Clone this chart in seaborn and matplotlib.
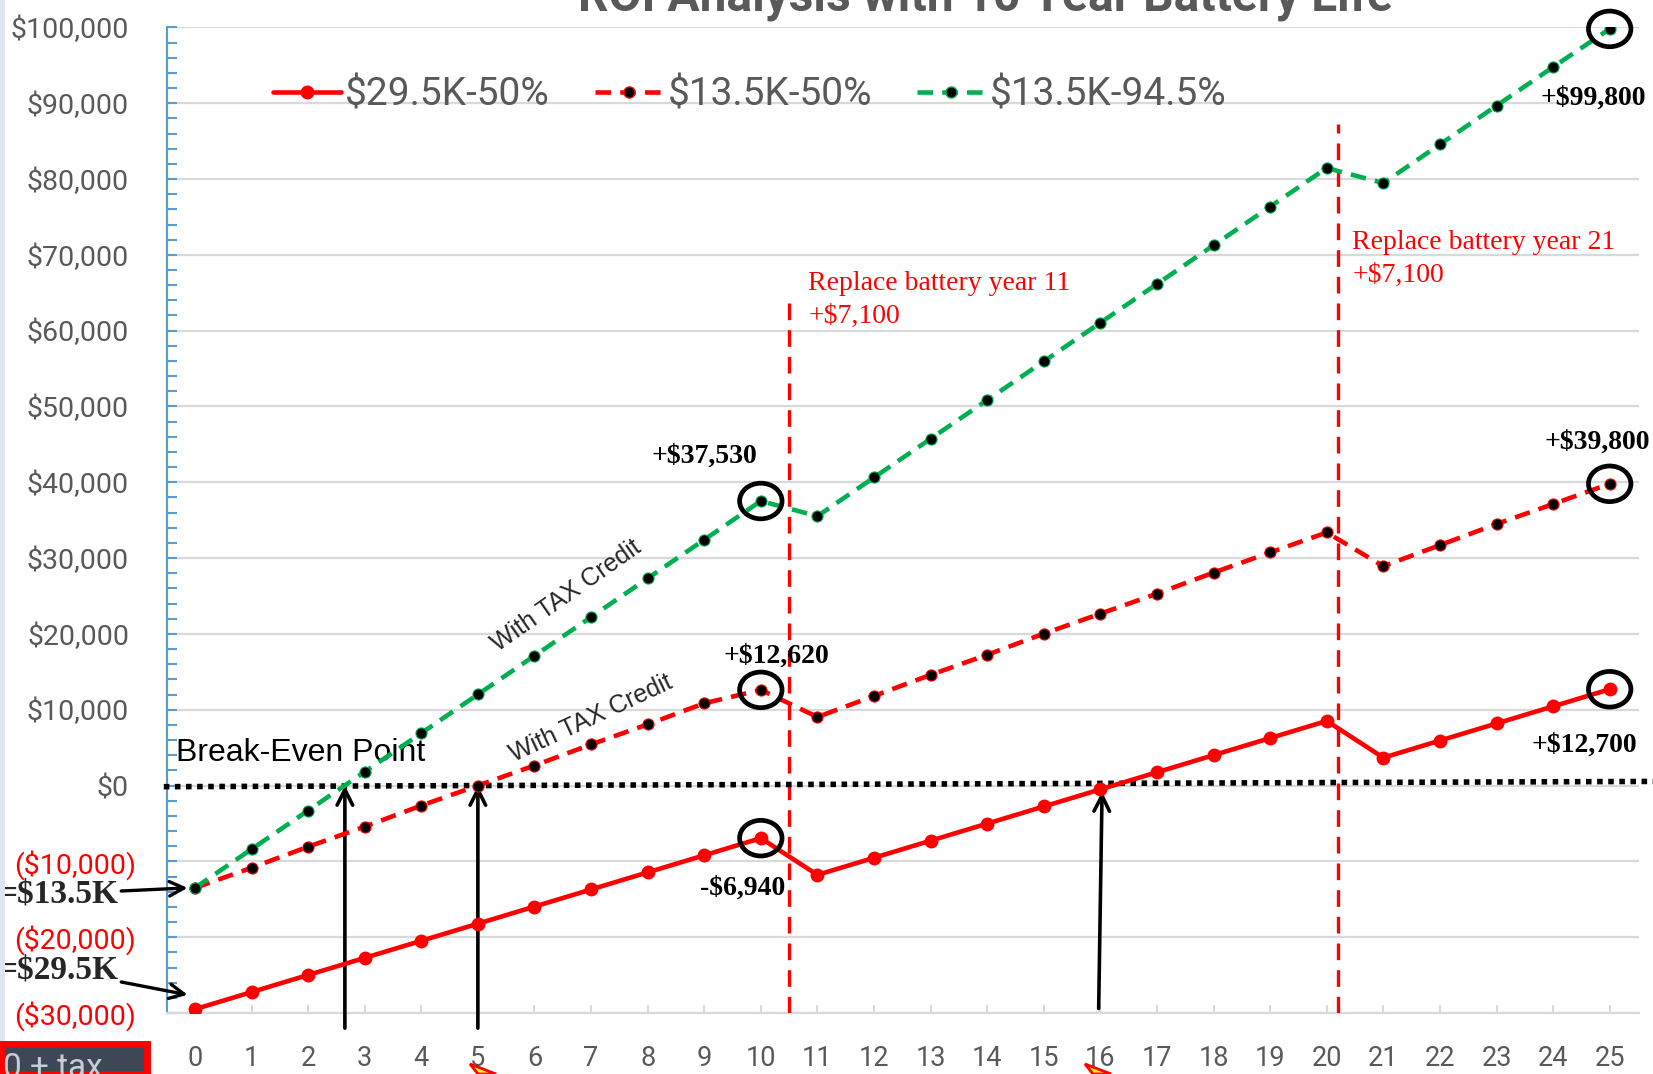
import matplotlib
matplotlib.use("Agg")
import matplotlib.pyplot as plt
import seaborn as sns
import pandas as pd
from matplotlib.patches import Ellipse, Rectangle, Polygon
from matplotlib.lines import Line2D
from matplotlib.ticker import FuncFormatter, MultipleLocator
from matplotlib.transforms import ScaledTranslation

# ---- data -------------------------------------------------------------
years = list(range(26))
roi_295k_50 = [-29500, -27244, -24988, -22732, -20476, -18220, -15964, -13708,
               -11452, -9196, -6940, -11784, -9528, -7272, -5016, -2760, -504,
               1752, 4008, 6264, 8520, 3676, 5932, 8188, 10444, 12700]
roi_135k_50 = [-13500, -10850, -8070, -5420, -2640, 0, 2640, 5420, 8070, 10850,
               12620, 9040, 11820, 14600, 17250, 20030, 22670, 25310, 28090,
               30740, 33380, 28930, 31710, 34490, 37130, 39800]
roi_135k_945 = [-13500, -8397, -3294, 1809, 6912, 12015, 17118, 22221, 27324,
                32427, 37530, 35533, 40636, 45739, 50842, 55945, 61048, 66151,
                71254, 76357, 81460, 79463, 84566, 89669, 94772, 99800]
series_names = ["$29.5K-50%", "$13.5K-50%", "$13.5K-94.5%"]
battery_years = [10.5, 20.2]
battery_cost = 7100
break_even_years = [2.65, 5.0, 16.0]
title_text = "ROI Analysis with 10 Year Battery Life"

df = pd.DataFrame({"year": years, "a": roi_295k_50, "b": roi_135k_50, "c": roi_135k_945})

# ---- figure -----------------------------------------------------------
sns.set_theme(style="white")
plt.rcParams["font.family"] = ["Roboto", "DejaVu Sans"]
GREY = "#595959"
RED = "#FF0000"
GREEN = "#00B050"

fig = plt.figure(figsize=(16.53, 10.74), dpi=100)
fig.patch.set_facecolor("white")
ax = fig.add_axes([0.1008, 0.0568, 0.8908, 0.9177])

dash = (0, (3.4, 2.0))
sns.lineplot(data=df, x="year", y="a", ax=ax, color=RED, lw=3.3, marker="o",
             markersize=10, markeredgewidth=0, markerfacecolor=RED, zorder=5)
sns.lineplot(data=df, x="year", y="b", ax=ax, color=RED, lw=3.3, linestyle=dash,
             marker="o", markersize=8, markerfacecolor="black",
             markeredgecolor=RED, markeredgewidth=0.8, zorder=5)
sns.lineplot(data=df, x="year", y="c", ax=ax, color=GREEN, lw=3.3, linestyle=dash,
             marker="o", markersize=8, markerfacecolor="black",
             markeredgecolor=GREEN, markeredgewidth=0.8, zorder=5)

# ---- axes styling -----------------------------------------------------
ax.set_xlim(-0.5, 25.52)
ax.set_ylim(-30000, 100000)
ax.set_xlabel("")
ax.set_ylabel("")
ax.set_xticks(years)
ax.yaxis.set_major_locator(MultipleLocator(10000))
ax.yaxis.set_minor_locator(MultipleLocator(2000))
ax.yaxis.set_major_formatter(FuncFormatter(
    lambda v, p: f"${v:,.0f}" if v >= 0 else f"(${-v:,.0f})"))
ax.grid(axis="y", color="#D9D9D9", lw=1.6, zorder=0)
ax.set_axisbelow(True)
for s in ["top", "right"]:
    ax.spines[s].set_visible(False)
ax.spines["left"].set_color("#5B9BD5")
ax.spines["left"].set_linewidth(1.5)
ax.spines["bottom"].set_color("#D9D9D9")
ax.spines["bottom"].set_linewidth(1.6)
ax.tick_params(axis="y", which="both", direction="in", color="#5B9BD5",
               width=1.5, length=7, left=True, labelsize=20.5, labelcolor=GREY, pad=22)
ax.tick_params(axis="x", direction="in", color="#D9D9D9", width=1.5, length=6,
               bottom=True, labelsize=19.5, labelcolor=GREY, pad=23)
fig.canvas.draw()
# positive amounts keep a trailing gap the width of ")" so digits line up
for lab in ax.get_yticklabels():
    if lab.get_text().startswith("("):
        lab.set_color(RED)
    else:
        lab.set_transform(lab.get_transform() + ScaledTranslation(-0.07, 0, fig.dpi_scale_trans))

# ---- legend -----------------------------------------------------------
handles = [
    Line2D([], [], color=RED, lw=3.3, marker="o", markersize=10, markeredgewidth=0),
    Line2D([], [], color=RED, lw=3.3, linestyle=dash, marker="o", markersize=8,
           markerfacecolor="black", markeredgecolor=RED),
    Line2D([], [], color=GREEN, lw=3.3, linestyle=dash, marker="o", markersize=8,
           markerfacecolor="black", markeredgecolor=GREEN),
]
leg = ax.legend(handles, series_names, loc="center left", bbox_to_anchor=(0.072, 0.931),
                ncol=3, frameon=False, fontsize=28, handlelength=1.75,
                handletextpad=0.12, columnspacing=1.15, borderaxespad=0,
                borderpad=0)
for t in leg.get_texts():
    t.set_color(GREY)

# ---- title (cropped at the top edge) ----------------------------------
fig.text(0.596, 1 - 11 / 1074, title_text, ha="center", va="baseline",
         fontsize=34.5, fontweight="bold", color=GREY)

# ---- break-even line --------------------------------------------------
ax.plot([-0.55, 25.9], [-150, 550], color="black", lw=4, linestyle=(0, (1, 1)),
        clip_on=False, zorder=4)
ax.text(-0.34, 4300, "Break-Even Point", fontsize=23, va="center", ha="left",
        family="Liberation Sans", color="black")

# ---- battery replacement markers --------------------------------------
for bx, top, label_x, label_y, yr in [
        (battery_years[0], 64000, 10.84, 67900, 11),
        (battery_years[1], 87300, 20.45, 73300, 21)]:
    ax.plot([bx, bx], [-30000, top], color=RED, lw=2.4, linestyle=(0, (5, 3)),
            zorder=3)
    ax.text(label_x, label_y, f"Replace battery year {yr}\n+${battery_cost:,}",
            color=RED, fontsize=20, family="Liberation Serif", va="top",
            ha="left", linespacing=1.45)

# ---- circled values ---------------------------------------------------
serif_b = dict(family="Liberation Serif", fontweight="bold", fontsize=20,
               color="black", ha="center", va="center")
circled = [
    (10, roi_135k_945[10], (-41, 32)),
    (10, roi_135k_50[10], (11, 24)),
    (10, roi_295k_50[10], (-13, -36)),
    (25, roi_135k_945[25], (-11.5, -50)),
    (25, roi_135k_50[25], (-9, 30)),
    (25, roi_295k_50[25], (-18, -40)),
]
for cx, cy, off in circled:
    ax.add_patch(Ellipse((cx, cy), 0.75, 4700, fill=False, edgecolor="black",
                         lw=3.4, zorder=6, clip_on=False))
    txt = f"+${cy:,}" if cy >= 0 else f"-${-cy:,}"
    ax.annotate(txt, (cx, cy), xytext=off, textcoords="offset points",
                annotation_clip=False, zorder=7, **serif_b)

# ---- "With TAX Credit" notes ------------------------------------------
ax.text(6.56, 25030, "With TAX Credit", rotation=35, fontsize=18,
        family="Liberation Sans", ha="center", va="center", rotation_mode="anchor")
ax.text(7.0, 8900, "With TAX Credit", rotation=25, fontsize=18,
        family="Liberation Sans", ha="center", va="center", rotation_mode="anchor")

# ---- break-even arrows ------------------------------------------------
arrow_kw = dict(arrowstyle="->", color="black", lw=2.6, mutation_scale=28,
                shrinkA=0, shrinkB=0)
ax.annotate("", xy=(break_even_years[0], 0), xytext=(break_even_years[0], -32000),
            arrowprops=arrow_kw, annotation_clip=False)
ax.annotate("", xy=(break_even_years[1], 0), xytext=(break_even_years[1], -32000),
            arrowprops=arrow_kw, annotation_clip=False)
ax.annotate("", xy=(break_even_years[2] + 0.03, -800),
            xytext=(break_even_years[2] - 0.03, -29400),
            arrowprops=arrow_kw, annotation_clip=False)

# ---- start-cost callouts ----------------------------------------------
callout_kw = dict(fontsize=24, family="Liberation Serif", fontweight="bold",
                  ha="center", va="center", annotation_clip=False)
ax.annotate("=$13.5K", xy=(-0.13, roi_135k_50[0]), xytext=(-2.42, -14300),
            arrowprops=dict(arrowstyle="->", color="black", lw=2.4,
                            mutation_scale=26, shrinkA=0, shrinkB=0), **callout_kw)
ax.annotate("=$29.5K", xy=(-0.13, roi_295k_50[0] + 1900), xytext=(-2.42, -24300),
            arrowprops=dict(arrowstyle="->", color="black", lw=2.4,
                            mutation_scale=26, shrinkA=0, shrinkB=0), **callout_kw)

# ---- slide fragments around the chart --------------------------------
fig.patches.append(Rectangle((0, 0), 5 / 1653, 1, transform=fig.transFigure,
                             facecolor="#DCE6EC", edgecolor="none", zorder=0))
fig.patches.append(Rectangle((2 / 1653, 0), 145 / 1653, 30 / 1074,
                             transform=fig.transFigure, facecolor="#3D4756",
                             edgecolor=RED, lw=5, zorder=10))
fig.text(3 / 1653, -10 / 1074, "0 + tax", fontsize=24, color="#C9CDD3",
         va="bottom", ha="left", zorder=11)
for px in (470, 1085):
    fig.patches.append(Polygon([((px) / 1653, 10 / 1074), ((px + 8) / 1653, 0),
                                ((px + 26) / 1653, 0)],
                               closed=True, transform=fig.transFigure,
                               facecolor="#FFFF00", edgecolor=RED, lw=2, zorder=10))

fig.savefig("out.png", dpi=100, facecolor="white")
